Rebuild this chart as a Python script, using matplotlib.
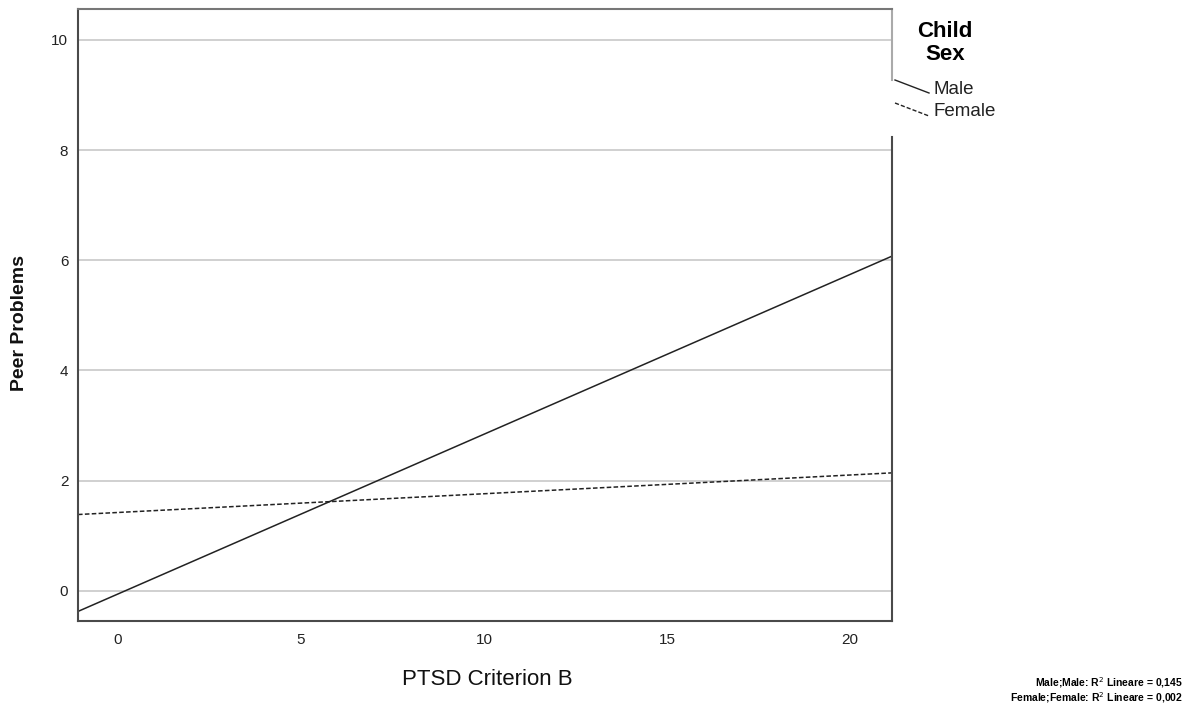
import numpy as np
import matplotlib.pyplot as plt
from matplotlib.lines import Line2D

plt.rcParams['font.family'] = ['Liberation Sans', 'DejaVu Sans']

# fit lines (intercept, slope)
groups = ["Male", "Female"]
intercepts = [-0.06, 1.42]
slopes = [0.29, 0.034]
styles = ["-", "--"]
r2_text = ["Male;Male: R$^2$ Lineare = 0,145", "Female;Female: R$^2$ Lineare = 0,002"]

x_ticks = [0, 5, 10, 15, 20]
y_ticks = [0, 2, 4, 6, 8, 10]
x_lim = (-1.09, 21.15)
y_lim = (-0.55, 10.56)

fig = plt.figure(figsize=(11.92, 7.05), dpi=100)
ax = fig.add_axes([78 / 1192, 1 - 621 / 705, (892 - 78) / 1192, (621 - 9) / 705])

xs = np.array(x_lim)
for name, b0, b1, ls in zip(groups, intercepts, slopes, styles):
    ax.plot(xs, b0 + b1 * xs, color="#222222", lw=1.1, ls=ls, dashes=(3, 1.5) if ls == "--" else (None, None))

ax.set_xlim(*x_lim)
ax.set_ylim(*y_lim)
ax.set_xticks(x_ticks)
ax.set_yticks(y_ticks)
ax.yaxis.grid(True, color="#c8c8c8", lw=1.2)
ax.set_axisbelow(True)
ax.tick_params(length=0, labelsize=11, colors="#222222")
ax.tick_params(axis="x", pad=9)
ax.tick_params(axis="y", pad=7)

for s in ["left", "bottom", "top"]:
    ax.spines[s].set_color("#4a4a4a")
    ax.spines[s].set_linewidth(1.5)
ax.spines["top"].set_color("#777777")
ax.spines["right"].set_visible(False)
# right border: light above the legend gap, dark below it
ax.add_line(Line2D([1, 1], [0, 1 - (137 - 9) / 612], transform=ax.transAxes, color="#4a4a4a", lw=1.5, clip_on=False))
ax.add_line(Line2D([1, 1], [1 - (80 - 9) / 612, 1], transform=ax.transAxes, color="#aaaaaa", lw=1.5, clip_on=False))

ax.set_xlabel("PTSD Criterion B", fontsize=16, color="#111111")
ax.xaxis.set_label_coords(0.503, 1 - (669 - 9) / 612)
ax.set_ylabel("Peer Problems", fontsize=14, fontweight="bold", color="#111111")
ax.yaxis.set_label_coords((20 - 78) / 814, 1 - (323 - 9) / 612)
ax.yaxis.label.set_va("center")

# legend drawn in figure pixels
W, H = 1192, 705
fig.text(945 / W, 1 - 43 / H, "Child\nSex", ha="center", va="center", fontsize=16, fontweight="bold", linespacing=1.1)
leg_y = [(80, 93), (103, 116)]
for name, ls, (y0, y1) in zip(groups, styles, leg_y):
    fig.add_artist(Line2D([895 / W, 929 / W], [1 - y0 / H, 1 - y1 / H], color="#222222", lw=1.0, ls=ls,
                          dashes=(3, 1.5) if ls == "--" else (None, None)))
    fig.text(933 / W, 1 - (y1 - 4) / H, name, ha="left", va="center", fontsize=13.5, color="#222222")

fig.text(1183 / W, 1 - 690 / H, "\n".join(r2_text), ha="right", va="center", fontsize=7.5,
         fontweight="bold", family=["Liberation Sans Narrow", "Liberation Sans", "DejaVu Sans"], linespacing=1.0)

fig.savefig("out.png", dpi=100)
